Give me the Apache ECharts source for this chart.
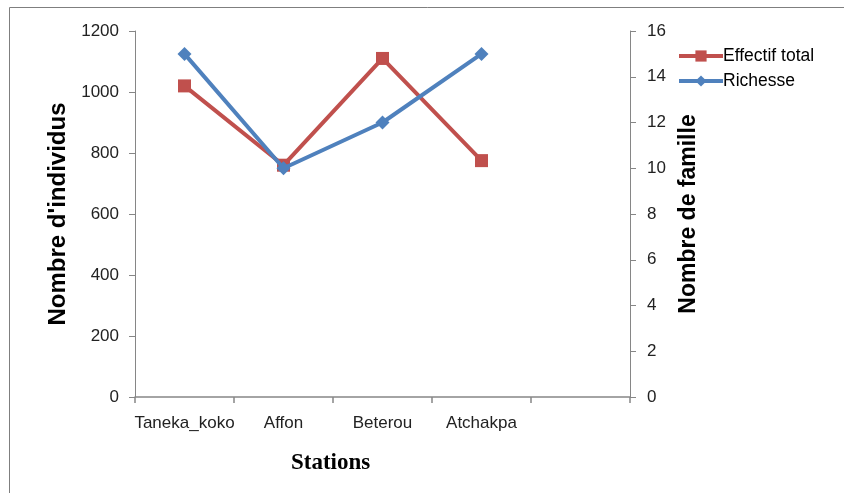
<!DOCTYPE html>
<html><head><meta charset="utf-8">
<script src="https://cdn.jsdelivr.net/npm/echarts@6/dist/echarts.min.js"></script>
<style>html,body{margin:0;padding:0;background:#fff}#c{width:844px;height:493px}</style>
</head><body><div id="c"></div>
<script>
const categories = ['Taneka_koko', 'Affon', 'Beterou', 'Atchakpa', ''];
const effectifTotal = [1020, 760, 1110, 775, null];
const richesse = [15, 10, 12, 15, null];
const leftTicks = { min: 0, max: 1200, interval: 200 };
const rightTicks = { min: 0, max: 16, interval: 2 };

const axisGray = '#868686';
const tickFont = { fontFamily: 'Liberation Sans', fontSize: 17, color: '#222' };
const chart = echarts.init(document.getElementById('c'), null, { renderer: 'canvas' });
chart.setOption({
  animation: false,
  backgroundColor: '#fff',
  graphic: [
    { type: 'rect', shape: { x: 9.5, y: 7.5, width: 900, height: 600 }, style: { fill: 'none', stroke: '#7f7f7f', lineWidth: 1 }, silent: true },
    { type: 'text', left: 291, top: 452, style: { text: 'Stations', font: 'bold 23px "Liberation Serif"', fill: '#000' } }
  ],
  legend: {
    orient: 'vertical', left: 672, top: 42, itemGap: 7,
    itemWidth: 44, itemHeight: 14,
    lineStyle: { width: 4 },
    textStyle: { fontFamily: 'Liberation Sans', fontSize: 17.5, color: '#000', padding: [0, 0, 0, -5] },
    data: ['Effectif total', 'Richesse']
  },
  grid: { left: 135, right: 214, top: 31, bottom: 96, containLabel: false },
  xAxis: {
    type: 'category', data: categories, boundaryGap: true,
    axisLine: { lineStyle: { color: axisGray, width: 1.5 } },
    axisTick: { show: true, length: 6, lineStyle: { color: axisGray, width: 1.5 }, alignWithLabel: false, interval: 0 },
    axisLabel: Object.assign({ margin: 18, interval: 0 }, tickFont),
    splitLine: { show: false }
  },
  yAxis: [
    {
      type: 'value', min: leftTicks.min, max: leftTicks.max, interval: leftTicks.interval,
      name: "Nombre d'individus", nameLocation: 'middle', nameGap: 56,
      nameTextStyle: { fontFamily: 'Liberation Sans', fontWeight: 'bold', fontSize: 24, color: '#000' },
      axisLine: { show: true, lineStyle: { color: axisGray, width: 1 } },
      axisTick: { show: true, length: 6, lineStyle: { color: axisGray } },
      axisLabel: Object.assign({ margin: 16, formatter: v => String(v) }, tickFont),
      splitLine: { show: false }
    },
    {
      type: 'value', min: rightTicks.min, max: rightTicks.max, interval: rightTicks.interval, position: 'right',
      name: 'Nombre de famille', nameLocation: 'middle', nameGap: 46, nameRotate: 90,
      nameTextStyle: { fontFamily: 'Liberation Sans', fontWeight: 'bold', fontSize: 23, color: '#000' },
      axisLine: { show: true, lineStyle: { color: axisGray, width: 1 } },
      axisTick: { show: true, length: 6, lineStyle: { color: axisGray } },
      axisLabel: Object.assign({ margin: 17, formatter: v => String(v) }, tickFont),
      splitLine: { show: false }
    }
  ],
  series: [
    {
      name: 'Effectif total', type: 'line', yAxisIndex: 0, data: effectifTotal,
      symbol: 'rect', symbolSize: 13,
      lineStyle: { color: '#C0504D', width: 4 },
      itemStyle: { color: '#C0504D' }, z: 2
    },
    {
      name: 'Richesse', type: 'line', yAxisIndex: 1, data: richesse,
      symbol: 'diamond', symbolSize: 14,
      lineStyle: { color: '#4F81BD', width: 4 },
      itemStyle: { color: '#4F81BD' }, z: 3
    }
  ]
});
</script></body></html>
